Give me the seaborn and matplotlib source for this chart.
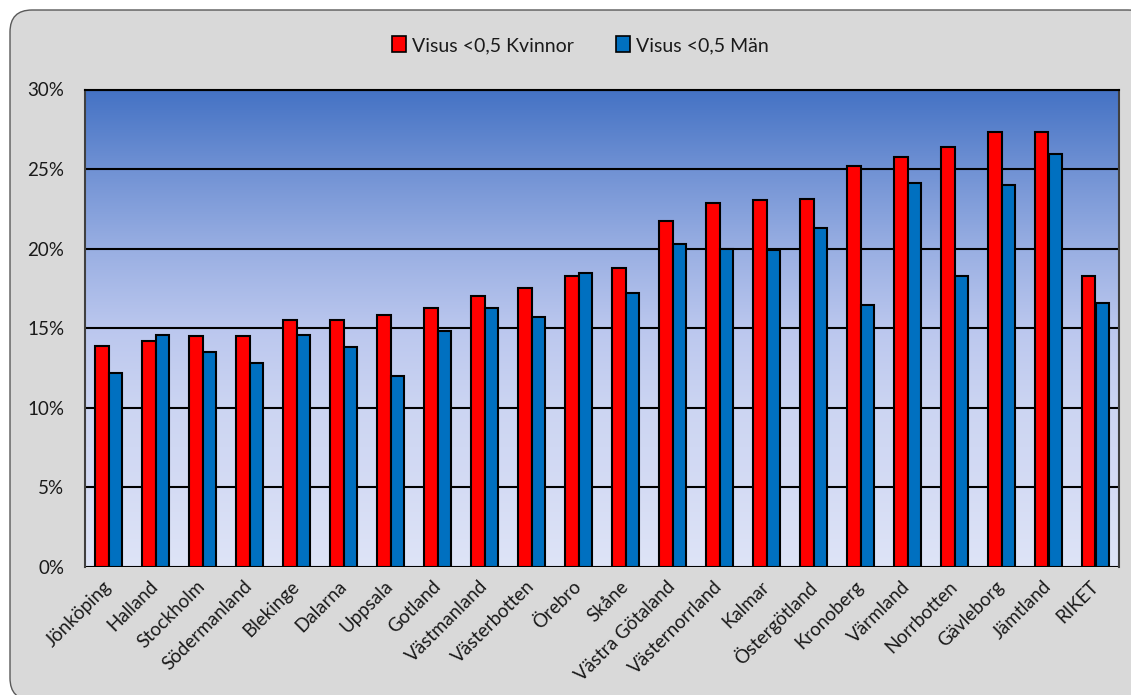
import matplotlib.pyplot as plt
import numpy as np
import pandas as pd
import seaborn as sns
from matplotlib.colors import LinearSegmentedColormap
from matplotlib.patches import FancyBboxPatch, Patch
from matplotlib.ticker import FuncFormatter

# Data (percent)
regions = ['Jönköping', 'Halland', 'Stockholm', 'Södermanland', 'Blekinge',
           'Dalarna', 'Uppsala', 'Gotland', 'Västmanland', 'Västerbotten',
           'Örebro', 'Skåne', 'Västra Götaland', 'Västernorrland', 'Kalmar',
           'Östergötland', 'Kronoberg', 'Värmland', 'Norrbotten', 'Gävleborg',
           'Jämtland', 'RIKET']
kvinnor = [13.9, 14.2, 14.5, 14.5, 15.5, 15.5, 15.85, 16.3, 17.0, 17.5,
           18.3, 18.8, 21.75, 22.85, 23.05, 23.15, 25.2, 25.75, 26.4, 27.3,
           27.3, 18.3]
man = [12.2, 14.6, 13.5, 12.8, 14.6, 13.8, 12.0, 14.8, 16.3, 15.7,
       18.5, 17.2, 20.3, 19.95, 19.9, 21.3, 16.45, 24.1, 18.3, 24.0,
       25.95, 16.6]
series = ['Visus <0,5 Kvinnor', 'Visus <0,5 Män']
colors = ['#FF0000', '#0070C0']

df = pd.DataFrame({
    'region': regions * 2,
    'value': [v / 100 for v in kvinnor + man],
    'serie': [series[0]] * len(regions) + [series[1]] * len(regions),
})

sns.set_style('white')
plt.rcParams['font.family'] = ['Lato', 'DejaVu Sans']

W, H = 1131, 695
fig = plt.figure(figsize=(W / 100, H / 100), dpi=100)
fig.patch.set_facecolor('white')

# rounded gray chart frame (runs off the right and bottom edges)
bg = fig.add_axes([0, 0, 1, 1], zorder=-10)
bg.set_xlim(0, W)
bg.set_ylim(H, 0)
bg.axis('off')
bg.add_patch(FancyBboxPatch((10, 10), 1140, 690,
                            boxstyle='round,pad=0,rounding_size=22',
                            facecolor='#D9D9D9', edgecolor='#595959', lw=1.0))

left, right, top, bottom = 85, 1119, 89.5, 567
ax = fig.add_axes([left / W, 1 - bottom / H, (right - left) / W, (bottom - top) / H])

sns.barplot(data=df, x='region', y='value', hue='serie', palette=colors,
            width=0.59, edgecolor='black', linewidth=1.5, ax=ax, legend=False,
            saturation=1)

ax.set_xlim(-0.5, len(regions) - 0.5)
ax.set_ylim(0, 0.30)

# gradient plot area
grad = LinearSegmentedColormap.from_list('bg', [
    (0.0, '#DEE4F7'), (0.17, '#D4DBF4'), (0.33, '#CCD5F2'), (0.5, '#BBC7EE'),
    (0.67, '#98AEE2'), (0.83, '#7192D4'), (1.0, '#4472C4')])
ax.imshow(np.linspace(0, 1, 256).reshape(-1, 1), cmap=grad, origin='lower',
          extent=[-0.5, len(regions) - 0.5, 0, 0.30], aspect='auto', zorder=-1)

ax.set_yticks(np.arange(0, 0.31, 0.05))
ax.yaxis.set_major_formatter(FuncFormatter(lambda v, p: f'{v * 100:.0f}%'))
ax.yaxis.grid(True, color='black', lw=1.5)
ax.set_axisbelow(True)
ax.set_xlabel('')
ax.set_ylabel('')
ax.tick_params(axis='y', length=0, pad=15, labelsize=13.5, colors='#1a1a1a')
ax.tick_params(axis='x', length=0, pad=12, labelsize=13.5, colors='#1a1a1a')
plt.setp(ax.get_xticklabels(), rotation=45, ha='right', va='center',
         rotation_mode='anchor')

for side in ['left', 'right']:
    ax.spines[side].set_color('#404040')
    ax.spines[side].set_linewidth(1.5)
ax.spines['top'].set_color('black')
ax.spines['top'].set_linewidth(1.5)
ax.spines['bottom'].set_visible(False)

handles = [Patch(facecolor=c, edgecolor='black', lw=1.2) for c in colors]
fig.legend(handles, series, loc='center', bbox_to_anchor=(0.513, 1 - 45 / H),
           ncol=2, frameon=False, fontsize=14, handlelength=0.7, handleheight=0.9,
           handletextpad=0.3, columnspacing=2.2, labelcolor='#1a1a1a')

fig.savefig('out.png', dpi=100)
